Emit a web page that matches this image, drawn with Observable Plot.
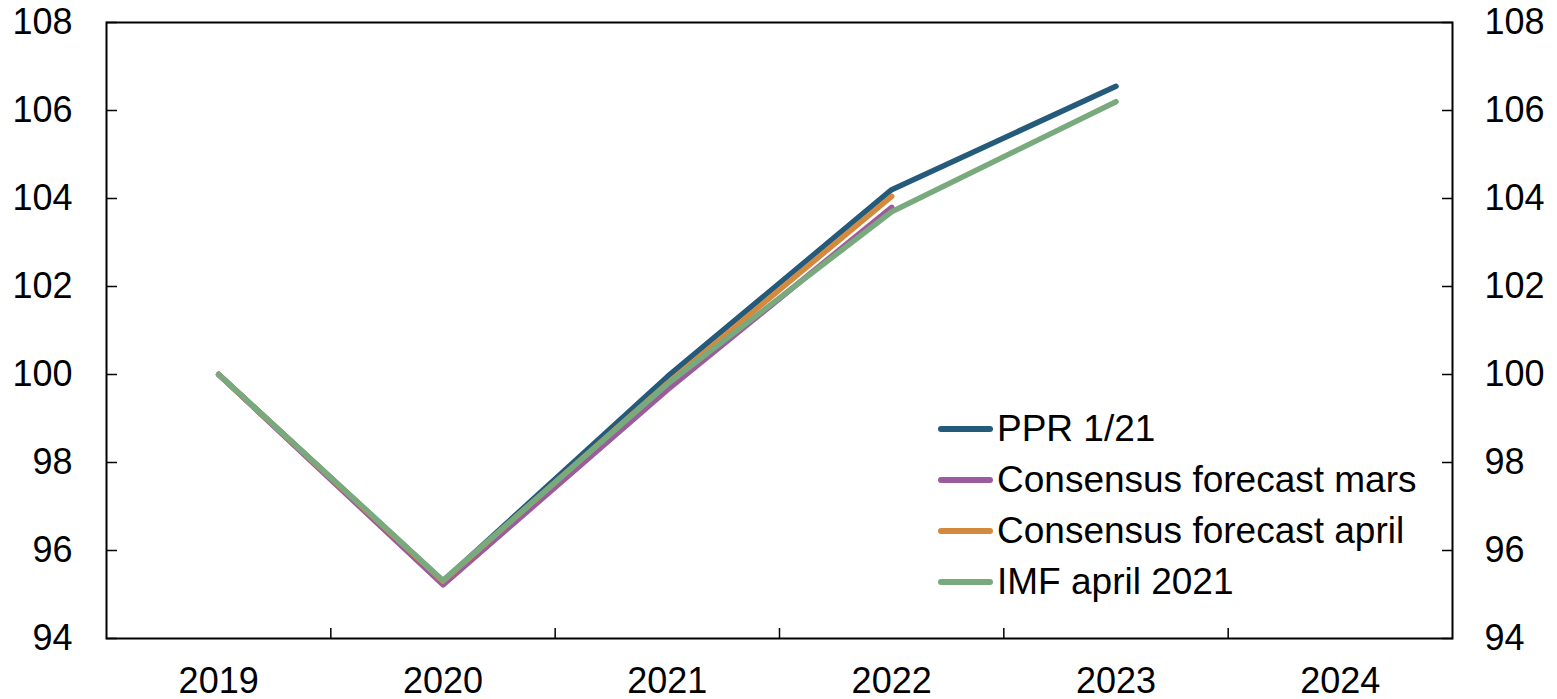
<!DOCTYPE html>
<html>
<head>
<meta charset="utf-8">
<script src="https://cdn.jsdelivr.net/npm/d3@7"></script>
<script src="https://cdn.jsdelivr.net/npm/@observablehq/plot@0.6"></script>
<style>
  html, body { margin: 0; padding: 0; background: #fff; }
  #wrap { position: relative; width: 1557px; height: 699px; font-family: "Liberation Sans", Arial, sans-serif; }
  #legend { position: absolute; left: 938px; top: 403px; font-size: 37px; color: #000; }
  .row { display: flex; align-items: center; height: 51px; }
  .sw { width: 55px; height: 6px; border-radius: 3px; margin-right: 4px; }
</style>
</head>
<body>
<div id="wrap"><div id="legend"></div></div>
<script>
const years = [2019, 2020, 2021, 2022, 2023, 2024];
const yTicks = [94, 96, 98, 100, 102, 104, 106, 108];
const seriesNames = ["PPR 1/21", "Consensus forecast mars", "Consensus forecast april", "IMF april 2021"];
const seriesColors = ["#245a7a", "#9a5c9c", "#d48a3e", "#78aa7e"];
const ppr = [100, 95.3, 99.95, 104.2, 106.55];
const consMars = [100, 95.22, 99.65, 103.8];
const consApril = [100, 95.3, 99.8, 104.05];
const imf = [100, 95.32, 99.78, 103.7, 106.2];

const seriesValues = [ppr, consMars, consApril, imf];
const data = [];
seriesValues.forEach((vals, i) => {
  vals.forEach((v, j) => data.push({series: seriesNames[i], year: years[j], value: v}));
});
const boundaries = years.slice(0, -1).map(y => y + 0.5);

const chart = Plot.plot({
  width: 1557,
  height: 699,
  marginLeft: 106,
  marginRight: 105,
  marginTop: 22,
  marginBottom: 61,
  style: {fontFamily: "'Liberation Sans', Arial, sans-serif", fontSize: "36px", color: "#000", background: "#fff"},
  x: {domain: [years[0] - 0.5, years[years.length - 1] + 0.5], label: null},
  y: {domain: [94, 108], label: null},
  color: {domain: seriesNames, range: seriesColors},
  marks: [
    Plot.axisX({ticks: boundaries, tickSize: -10, tickFormat: () => "", strokeWidth: 1.5, label: null}),
    Plot.axisX({ticks: years, tickSize: 0, tickPadding: 29, tickFormat: d => String(d), fontSize: 36, label: null}),
    Plot.axisY({anchor: "left", ticks: yTicks, tickSize: -11, tickFormat: () => "", strokeWidth: 1.5, label: null}),
    Plot.axisY({anchor: "left", ticks: yTicks, tickSize: 0, tickPadding: 34, fontSize: 36, label: null}),
    Plot.axisY({anchor: "right", ticks: yTicks, tickSize: -11, tickFormat: () => "", strokeWidth: 1.5, label: null}),
    Plot.axisY({anchor: "right", ticks: yTicks, tickSize: 0, tickPadding: 32, fontSize: 36, label: null}),
    Plot.frame({stroke: "#000", strokeWidth: 2}),
    Plot.line(data, {x: "year", y: "value", z: "series", stroke: "series", strokeWidth: 5.5, strokeLinecap: "round"})
  ]
});
document.getElementById("wrap").prepend(chart);

const legend = document.getElementById("legend");
seriesNames.forEach((name, i) => {
  const row = document.createElement("div");
  row.className = "row";
  const sw = document.createElement("div");
  sw.className = "sw";
  sw.style.background = seriesColors[i];
  const t = document.createElement("span");
  t.textContent = name;
  row.appendChild(sw);
  row.appendChild(t);
  legend.appendChild(row);
});
</script>
</body>
</html>
